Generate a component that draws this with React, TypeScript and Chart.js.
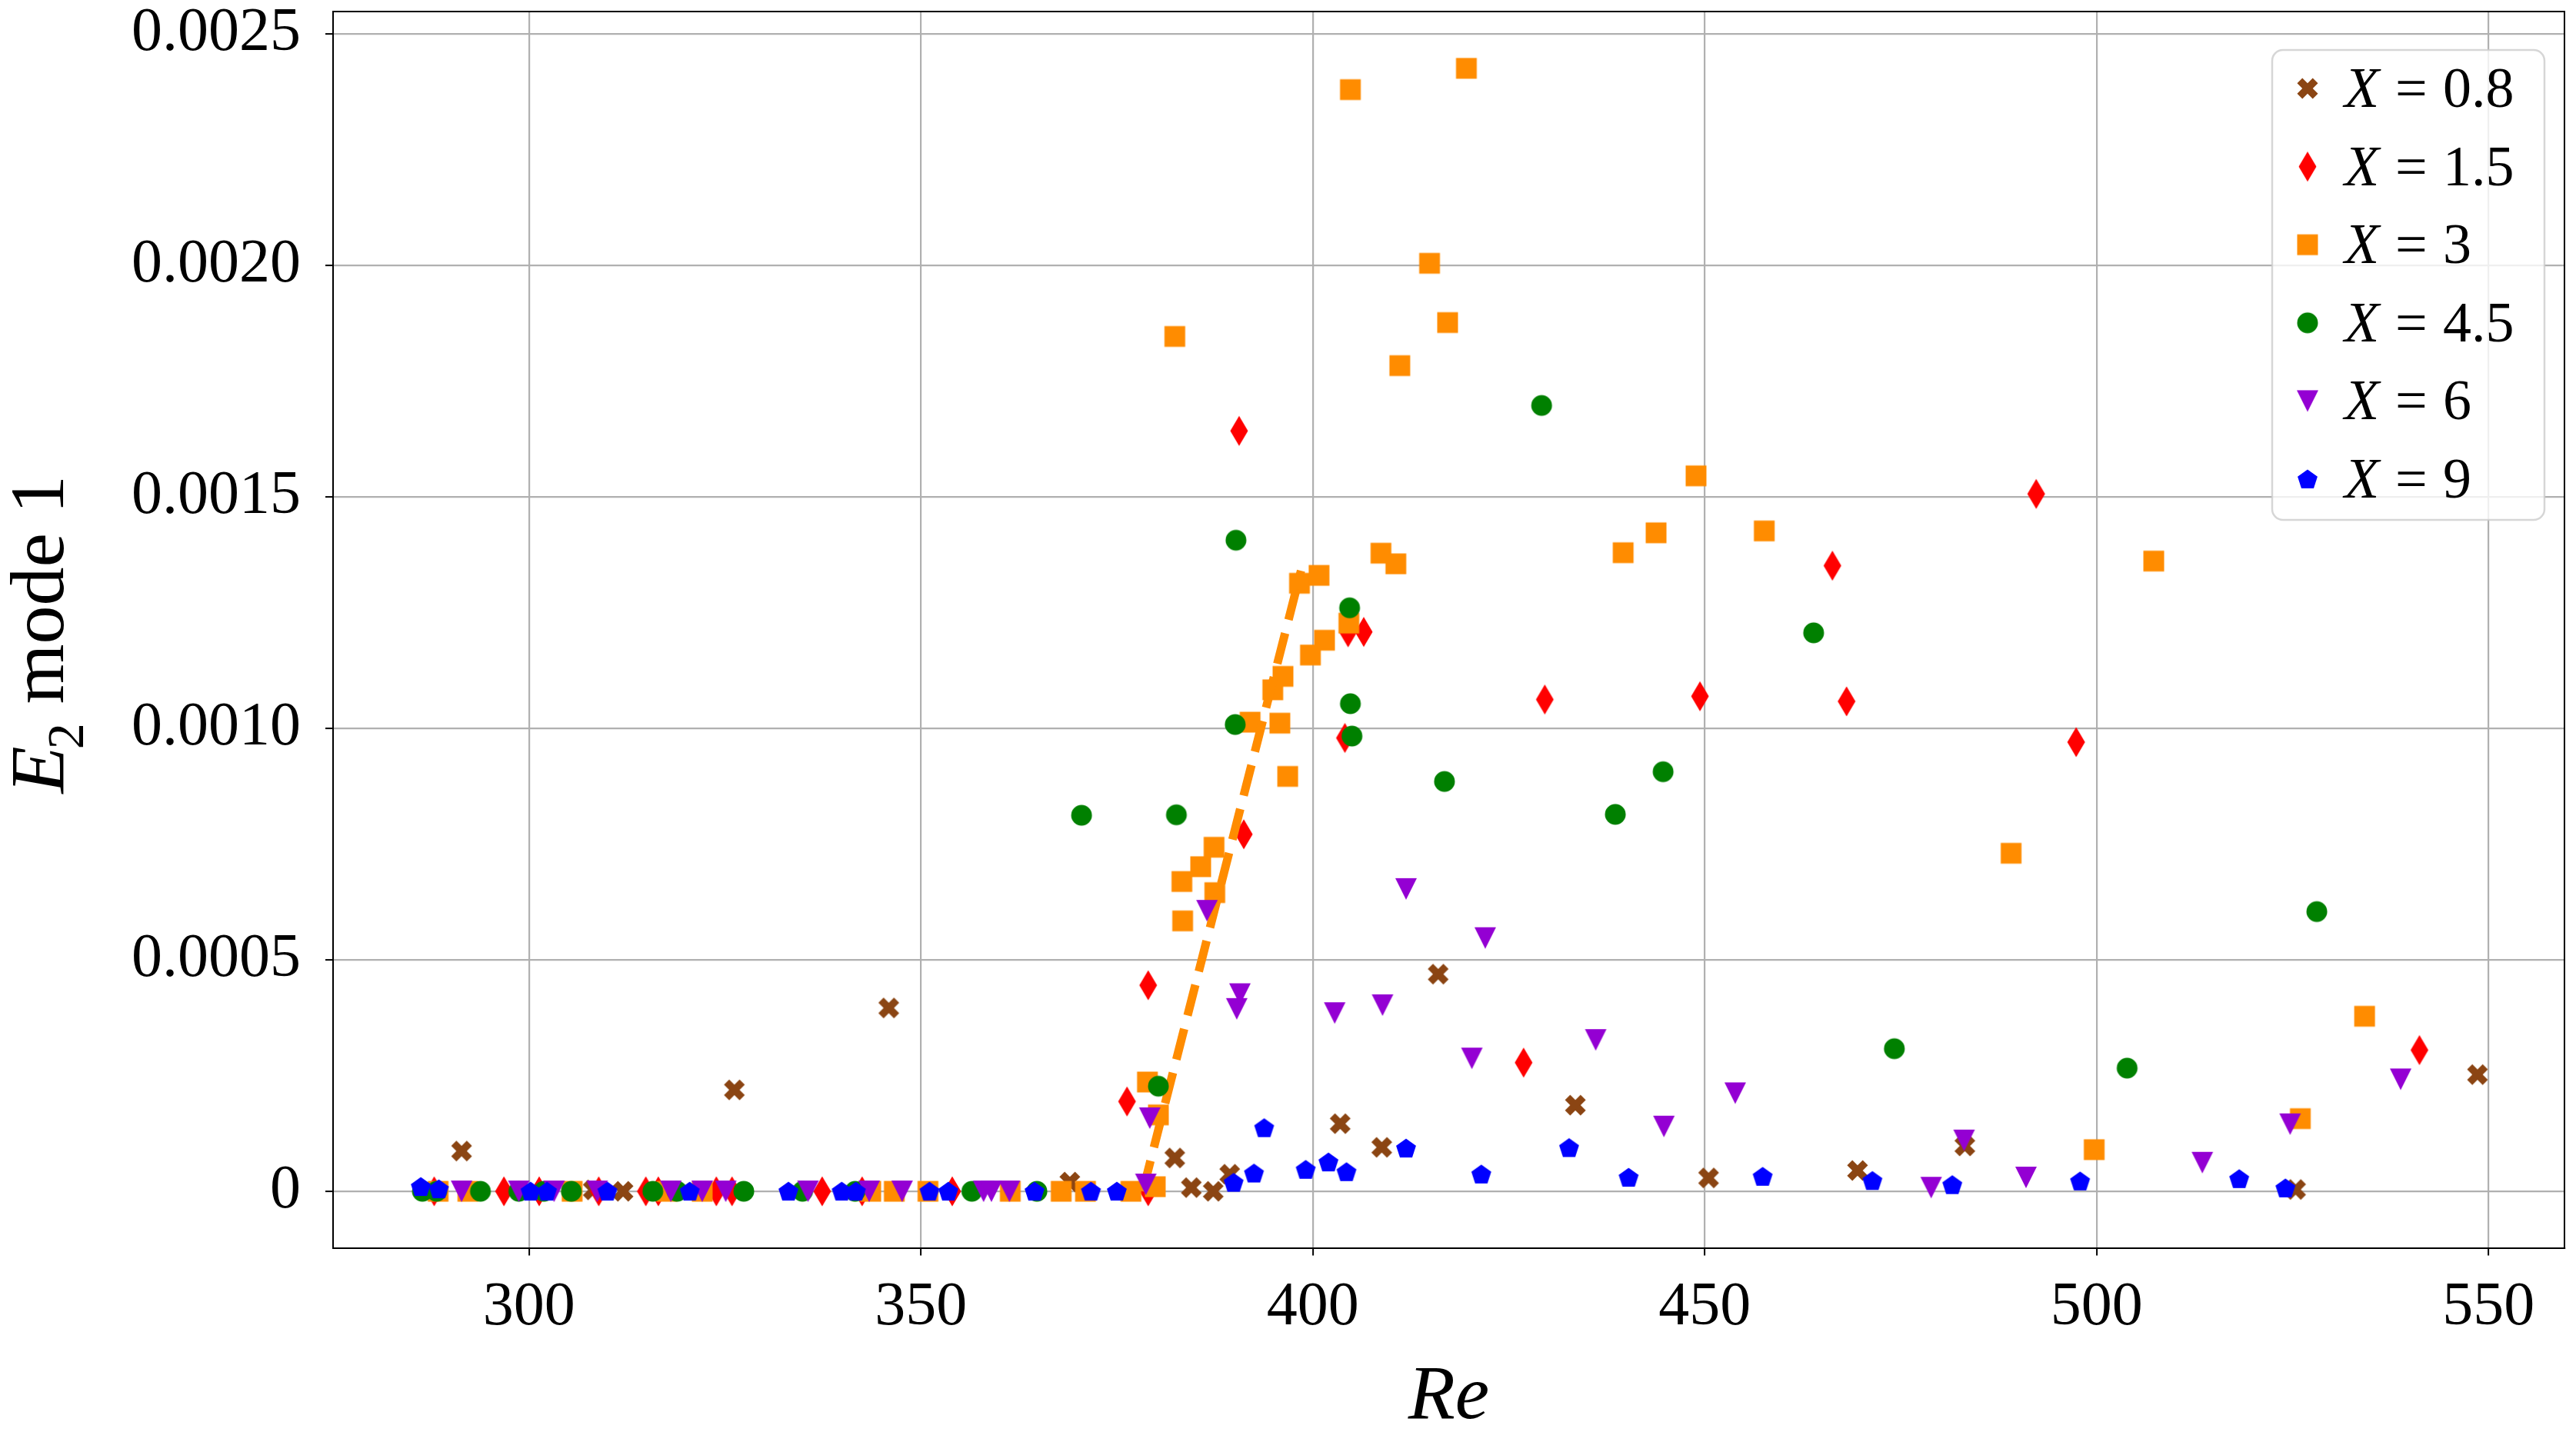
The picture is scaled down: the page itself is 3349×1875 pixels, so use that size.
import React, { useEffect, useRef } from 'react';
import { Chart, registerables } from 'chart.js';

Chart.register(...registerables);

const W = 3349;
const H = 1875;
const FONT = "'Liberation Serif', 'Times New Roman', Times, serif";

// ---------- data ----------
const re08 = [291.4, 308.2, 312.0, 326.2, 345.9, 369.0, 382.4, 384.5, 387.3, 389.4, 403.5, 408.8, 416.0, 433.5, 450.5, 469.5, 483.2, 525.4, 548.6];
const e08 = [0.000087, 0.000003, 0.0, 0.000219, 0.000396, 0.00002, 0.000072, 0.000008, 0.0, 0.000037, 0.000146, 0.000095, 0.000469, 0.000186, 0.000029, 0.000045, 0.000098, 0.000004, 0.000252];

const re15 = [287.9, 296.8, 301.3, 308.9, 314.9, 316.5, 323.9, 325.9, 337.4, 342.5, 354.0, 376.3, 379.0, 379.0, 390.6, 391.2, 404.1, 404.5, 406.5, 426.9, 429.6, 449.4, 466.3, 468.1, 492.3, 497.4, 541.2];
const e15 = [0, 0, 0, 0, 0, 0, 0, 0, 0, 0, 0, 0.000194, 0.0, 0.000445, 0.001642, 0.000771, 0.000979, 0.001207, 0.001208, 0.000278, 0.001062, 0.001069, 0.001351, 0.001058, 0.001506, 0.00097, 0.000305];

const re3 = [288.4, 292.2, 305.5, 317.6, 322.1, 343.6, 346.6, 350.9, 361.4, 367.9, 371.0, 376.8, 379.9, 378.9, 380.3, 382.4, 383.3, 383.4, 385.7, 387.4, 387.5, 392.0, 394.9, 395.8, 396.2, 396.8, 398.3, 399.7, 400.8, 401.5, 404.6, 404.8, 408.7, 410.6, 411.1, 414.9, 417.2, 419.6, 439.6, 443.8, 448.9, 457.6, 489.1, 499.7, 507.3, 526.0, 534.2];
const e3 = [0, 0, 0, 0, 0, 0, 0, 0, 0, 0, 0, 0, 0.00001, 0.000236, 0.000165, 0.001846, 0.000669, 0.000584, 0.000701, 0.000743, 0.000645, 0.001013, 0.001083, 0.001011, 0.001112, 0.000896, 0.001313, 0.001158, 0.00133, 0.00119, 0.001227, 0.002379, 0.001378, 0.001355, 0.001783, 0.002004, 0.001876, 0.002425, 0.001379, 0.001422, 0.001545, 0.001426, 0.00073, 0.00009, 0.001361, 0.000157, 0.000378];

const re45 = [286.4, 288.2, 293.8, 298.7, 301.9, 305.4, 315.8, 318.9, 327.4, 334.9, 341.6, 356.5, 364.8, 370.5, 380.3, 382.6, 390.1, 390.2, 404.7, 404.8, 405.0, 416.8, 429.2, 438.6, 444.7, 463.9, 474.2, 503.9, 528.1];
const e45 = [0, 0, 0, 0, 0, 0, 0, 0, 0, 0, 0, 0, 0, 0.000812, 0.000227, 0.000813, 0.001008, 0.001406, 0.00126, 0.001053, 0.000983, 0.000885, 0.001697, 0.000814, 0.000906, 0.001206, 0.000308, 0.000266, 0.000604];

const re6 = [291.4, 298.7, 303.2, 308.7, 318.1, 322.1, 325.1, 335.6, 343.4, 347.6, 358.0, 359.0, 361.3, 378.7, 379.2, 386.5, 390.3, 390.7, 402.8, 408.9, 411.9, 420.3, 422.0, 436.1, 444.8, 453.9, 478.9, 483.1, 491.0, 513.5, 524.7, 538.8];
const e6 = [0, 0, 0, 0, 0, 0, 0, 0, 0, 0, 0, 0, 0, 0.000015, 0.000158, 0.000606, 0.000394, 0.000426, 0.000385, 0.000402, 0.000653, 0.000287, 0.000547, 0.000327, 0.00014, 0.000212, 0.000008, 0.00011, 0.00003, 0.000062, 0.000145, 0.000242];

const re9 = [286.2, 288.5, 300.2, 302.3, 310.0, 320.5, 333.1, 339.9, 341.7, 351.1, 353.5, 364.5, 371.7, 375.0, 389.9, 392.5, 393.8, 399.1, 402.0, 404.3, 411.9, 421.5, 432.7, 440.3, 457.4, 471.4, 481.6, 497.9, 518.2, 524.1];
const e9 = [0.00001, 0.000005, 0, 0, 0, 0, 0, 0, 0, 0, 0, 0, 0, 0, 0.000019, 0.000039, 0.000137, 0.000047, 0.000063, 0.000042, 0.000093, 0.000037, 0.000094, 0.00003, 0.000032, 0.000023, 0.000014, 0.000022, 0.000027, 0.000007];

// dashed linear fit for X = 3
const fitRe = [378.3, 398.5];
const fitE = [0, 0.00134];

const seriesValues = ['0.8', '1.5', '3', '4.5', '6', '9'];
const seriesRe = [re08, re15, re3, re45, re6, re9];
const seriesE = [e08, e15, e3, e45, e6, e9];
const seriesColors = ['#8B4513', '#FF0000', '#FF8C00', '#008000', '#9400D3', '#0000FF'];
const markerKinds = ['X', 'd', 's', 'o', 'v', 'p'];

const xTicks = [300, 350, 400, 450, 500, 550];
const yTicks = [0, 0.0005, 0.001, 0.0015, 0.002, 0.0025];
const xMin = 275.0;
const xMax = 559.7;
const yMin = -0.000122;
const yMax = 0.0025476;

// ---------- markers ----------
function makeMarker(kind: string, color: string): HTMLCanvasElement {
  const s = 48;
  const c = document.createElement('canvas');
  c.width = s;
  c.height = s;
  const g = c.getContext('2d') as CanvasRenderingContext2D;
  g.translate(s / 2, s / 2);
  g.fillStyle = color;
  g.beginPath();
  const poly = (pts: number[][]) => {
    pts.forEach((p, i) => (i === 0 ? g.moveTo(p[0], p[1]) : g.lineTo(p[0], p[1])));
    g.closePath();
  };
  if (kind === 'X') {
    const a = 14.3;
    const w = 4.8;
    const base = [[-w, -a], [w, -a], [w, -w], [a, -w], [a, w], [w, w], [w, a], [-w, a], [-w, w], [-a, w], [-a, -w], [-w, -w]];
    const cs = Math.SQRT1_2;
    poly(base.map(([x, y]) => [x * cs - y * cs, x * cs + y * cs]));
  } else if (kind === 'd') {
    poly([[0, -19.5], [11.5, 0], [0, 19.5], [-11.5, 0]]);
  } else if (kind === 's') {
    poly([[-13.5, -13.5], [13.5, -13.5], [13.5, 13.5], [-13.5, 13.5]]);
  } else if (kind === 'o') {
    g.arc(0, 0, 13.5, 0, Math.PI * 2);
  } else if (kind === 'v') {
    poly([[-14, -14], [14, -14], [0, 14]]);
  } else if (kind === 'p') {
    const R = 13.6;
    const pts: number[][] = [];
    for (let i = 0; i < 5; i++) {
      const ang = -Math.PI / 2 + (i * 2 * Math.PI) / 5;
      pts.push([R * Math.cos(ang), R * Math.sin(ang) + 1]);
    }
    poly(pts);
  }
  g.fill();
  return c;
}

const toPoints = (xs: number[], ys: number[]) => xs.map((x, i) => ({ x, y: ys[i] }));

export default function App() {
  const ref = useRef<HTMLCanvasElement | null>(null);

  useEffect(() => {
    document.body.style.margin = '0';
    const canvas = ref.current;
    if (!canvas) return;
    const markers = markerKinds.map((k, i) => makeMarker(k, seriesColors[i]));
    const orders = [6, 5, 4, 3, 2, 1];

    const datasets: any[] = seriesRe.map((xs, i) => ({
      type: 'scatter',
      label: 'X = ' + seriesValues[i],
      data: toPoints(xs, seriesE[i]),
      pointStyle: markers[i],
      pointRadius: 14,
      pointHoverRadius: 14,
      backgroundColor: seriesColors[i],
      borderColor: seriesColors[i],
      showLine: false,
      order: orders[i],
    }));
    datasets.push({
      type: 'line',
      label: 'fit',
      data: toPoints(fitRe, fitE),
      borderColor: '#FF8C00',
      borderWidth: 11,
      borderDash: [41, 18],
      borderCapStyle: 'butt',
      pointRadius: 0,
      fill: false,
      tension: 0,
      order: 3.5,
    });

    const decorations = {
      id: 'decorations',
      afterDraw(chart: any) {
        const ctx = chart.ctx as CanvasRenderingContext2D;
        const ca = chart.chartArea;
        ctx.save();
        // top and right spines
        ctx.strokeStyle = '#000';
        ctx.lineWidth = 2;
        ctx.beginPath();
        ctx.moveTo(ca.left, ca.top);
        ctx.lineTo(ca.right, ca.top);
        ctx.lineTo(ca.right, ca.bottom);
        ctx.stroke();

        // y axis title: E_2 mode 1
        const cx = ca.left - 351.3;
        const cy = (ca.top + ca.bottom) / 2 + 6;
        ctx.translate(cx, cy);
        ctx.rotate(-Math.PI / 2);
        ctx.fillStyle = '#000';
        ctx.textBaseline = 'alphabetic';
        ctx.textAlign = 'left';
        ctx.font = `italic 100px ${FONT}`;
        const wE = ctx.measureText('E').width;
        ctx.font = `68px ${FONT}`;
        const w2 = ctx.measureText('2').width;
        ctx.font = `100px ${FONT}`;
        const wRest = ctx.measureText(' mode 1').width;
        const total = wE - 4 + w2 + wRest;
        let x0 = -total / 2;
        ctx.font = `italic 100px ${FONT}`;
        ctx.fillText('E', x0, 0);
        x0 += wE - 4;
        ctx.font = `68px ${FONT}`;
        ctx.fillText('2', x0, 26);
        x0 += w2;
        ctx.font = `100px ${FONT}`;
        ctx.fillText(' mode 1', x0, 0);
        ctx.restore();

        // legend
        ctx.save();
        const bw = 354;
        const bh = 611;
        const bx = ca.right - 380;
        const by = ca.top + 50;
        ctx.beginPath();
        (ctx as any).roundRect(bx, by, bw, bh, 14);
        ctx.fillStyle = 'rgba(255,255,255,0.8)';
        ctx.fill();
        ctx.strokeStyle = 'rgba(204,204,204,0.8)';
        ctx.lineWidth = 2.5;
        ctx.stroke();
        const rowH = 101.6;
        for (let i = 0; i < seriesValues.length; i++) {
          const ry = by + 50 + i * rowH;
          const m = markers[i];
          ctx.drawImage(m, bx + 46 - m.width / 2, ry - m.height / 2);
          const tx = bx + 94;
          ctx.fillStyle = '#000';
          ctx.textBaseline = 'alphabetic';
          ctx.textAlign = 'left';
          ctx.font = `italic 74px ${FONT}`;
          ctx.fillText('X', tx, ry + 24);
          ctx.font = `74px ${FONT}`;
          ctx.fillText('=', tx + 66, ry + 24);
          ctx.fillText(seriesValues[i], tx + 128, ry + 24);
        }
        ctx.restore();
      },
    };

    const chart = new Chart(canvas, {
      type: 'scatter',
      data: { datasets },
      options: {
        animation: false,
        responsive: false,
        maintainAspectRatio: false,
        devicePixelRatio: 1,
        events: [],
        layout: { padding: { left: 0, right: 4, top: 13.4, bottom: 0 } },
        plugins: {
          legend: { display: false },
          tooltip: { enabled: false },
        },
        scales: {
          x: {
            type: 'linear',
            position: 'bottom',
            min: xMin,
            max: xMax,
            afterBuildTicks: (scale: any) => {
              scale.ticks = xTicks.map((v) => ({ value: v }));
            },
            afterFit: (scale: any) => {
              scale.height = H - 1622.5;
              scale.paddingLeft = 0;
              scale.paddingRight = 0;
              scale.paddingTop = 0;
              scale.paddingBottom = 0;
            },
            ticks: {
              font: { family: FONT, size: 80 },
              color: '#000',
              padding: 20,
              maxRotation: 0,
              autoSkip: false,
              callback: (v: any) => String(v),
            },
            grid: {
              color: '#b0b0b0',
              lineWidth: 2.2,
              drawTicks: true,
              tickLength: 10,
              tickColor: '#000',
              tickWidth: 2,
            },
            border: { display: true, color: '#000', width: 2 },
            title: {
              display: true,
              text: 'Re',
              color: '#000',
              font: { family: FONT, size: 100, style: 'italic' },
              padding: { top: 0, bottom: -3 },
            },
          },
          y: {
            type: 'linear',
            min: yMin,
            max: yMax,
            afterBuildTicks: (scale: any) => {
              scale.ticks = yTicks.map((v) => ({ value: v }));
            },
            afterFit: (scale: any) => {
              scale.width = 433;
              scale.paddingLeft = 0;
              scale.paddingRight = 0;
              scale.paddingTop = 0;
              scale.paddingBottom = 0;
            },
            ticks: {
              font: { family: FONT, size: 80 },
              color: '#000',
              padding: 32,
              autoSkip: false,
              callback: (v: any) => (v === 0 ? '0' : Number(v).toFixed(4)),
            },
            grid: {
              color: '#b0b0b0',
              lineWidth: 2.2,
              drawTicks: true,
              tickLength: 10,
              tickColor: '#000',
              tickWidth: 2,
            },
            border: { display: true, color: '#000', width: 2 },
            title: { display: false },
          },
        },
      },
      plugins: [decorations],
    } as any);

    return () => {
      chart.destroy();
    };
  }, []);

  return (
    <div style={{ width: W, height: H, background: '#fff' }}>
      <canvas ref={ref} width={W} height={H} style={{ display: 'block', width: W, height: H }} />
    </div>
  );
}
